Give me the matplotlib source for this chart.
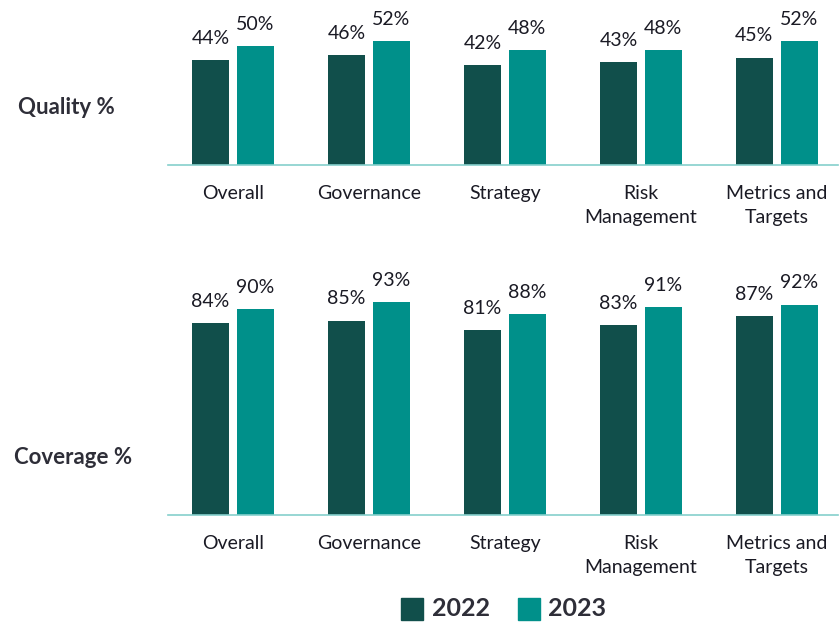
import matplotlib
matplotlib.use("Agg")
import matplotlib.pyplot as plt
import numpy as np
from matplotlib.patches import Rectangle

categories = ["Overall", "Governance", "Strategy", "Risk\nManagement", "Metrics and\nTargets"]
quality_2022 = [44, 46, 42, 43, 45]
quality_2023 = [50, 52, 48, 48, 52]
coverage_2022 = [84, 85, 81, 83, 87]
coverage_2023 = [90, 93, 88, 91, 92]
years = ["2022", "2023"]

C22 = "#114f4b"
C23 = "#00908a"
AXC = "#85cfcc"
TXT = "#1a1a24"
ROWTXT = "#2e2e38"

plt.rcParams['font.family'] = ['Lato', 'DejaVu Sans']

W, H = 839, 626
fig = plt.figure(figsize=(W / 100, H / 100), dpi=100)

def make_axes(y_base, y_top):
    return fig.add_axes([168 / W, (H - y_base) / H, 670 / W, (y_base - y_top) / H])

def draw(ax, v22, v23, ylim_top, label, label_x, label_y):
    x = np.arange(len(categories))
    bw = 0.272
    off = 0.165
    b1 = ax.bar(x - off, v22, bw, color=C22)
    b2 = ax.bar(x + off, v23, bw, color=C23)
    for bars, vals in ((b1, v22), (b2, v23)):
        for b, v in zip(bars, vals):
            ax.annotate(f"{v}%", (b.get_x() + b.get_width() / 2, v),
                        xytext=(0, 9.5), textcoords="offset points",
                        ha="center", va="bottom", fontsize=14, color=TXT)
    ax.set_xlim(-0.478, 4.45)
    ax.set_ylim(0, ylim_top)
    ax.set_xticks(x)
    ax.set_xticklabels(categories, fontsize=14, color=TXT, linespacing=1.5)
    ax.tick_params(axis="x", length=0, pad=14.5)
    ax.set_yticks([])
    for s in ("top", "right", "left"):
        ax.spines[s].set_visible(False)
    ax.spines["bottom"].set_color(AXC)
    ax.spines["bottom"].set_linewidth(1.2)
    fig.text(label_x / W, (H - label_y) / H, label, fontsize=16, fontweight="bold",
             color=ROWTXT, ha="left", va="center")

ax1 = make_axes(165, 0)
draw(ax1, quality_2022, quality_2023, 165 / 2.386, "Quality %", 18, 108)
ax2 = make_axes(515, 270)
draw(ax2, coverage_2022, coverage_2023, 245 / 2.287, "Coverage %", 14, 458)

# legend
for (x0, col, yr, tx) in ((401, C22, years[0], 432), (518, C23, years[1], 548)):
    fig.add_artist(Rectangle((x0 / W, (H - 620) / H), 22 / W, 22 / H,
                             transform=fig.transFigure, color=col))
    fig.text(tx / W, (H - 609) / H, yr, fontsize=18, fontweight="bold",
             color=ROWTXT, ha="left", va="center")

fig.savefig("out.png", dpi=100)
